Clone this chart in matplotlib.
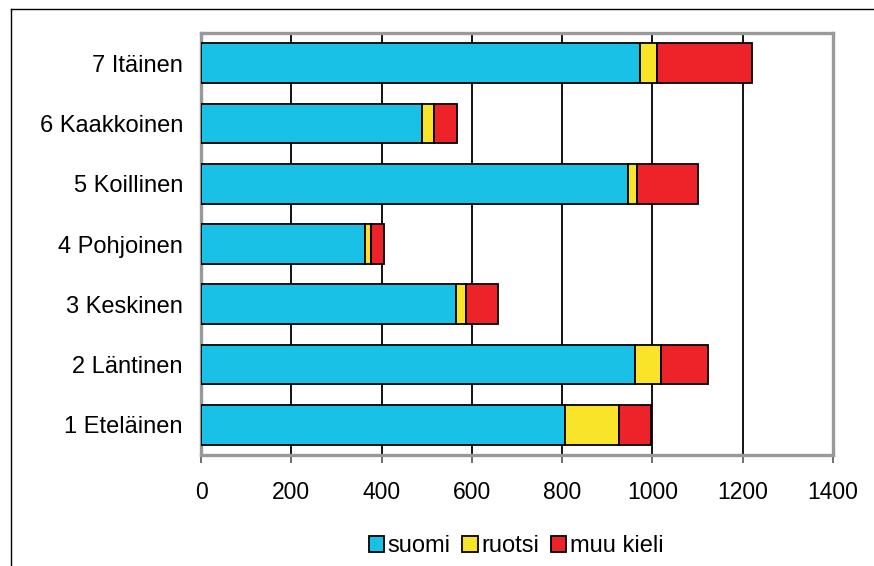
import numpy as np
import matplotlib
matplotlib.use("Agg")
import matplotlib.pyplot as plt
from matplotlib.patches import Patch
from matplotlib.lines import Line2D

plt.rcParams['font.family'] = ['Liberation Sans', 'DejaVu Sans']

# alueet alhaalta ylös
alueet = ['1 Eteläinen', '2 Läntinen', '3 Keskinen', '4 Pohjoinen',
          '5 Koillinen', '6 Kaakkoinen', '7 Itäinen']
suomi = [807, 961, 565, 364, 945, 490, 973]
ruotsi = [120, 57, 22, 12, 20, 26, 38]
muu_kieli = [70, 104, 70, 30, 136, 51, 209]
sarjat = ['suomi', 'ruotsi', 'muu kieli']
varit = ['#19C1E6', '#F9E42A', '#EE2229']
x_ticks = [0, 200, 400, 600, 800, 1000, 1200, 1400]

fig = plt.figure(figsize=(8.74, 5.66), dpi=100)
ax = fig.add_axes([201 / 874, 1 - 455 / 566, 632 / 874, 422 / 566])

y = np.arange(len(alueet))
vasen = np.zeros(len(alueet))
for arvot, nimi, vari in zip([suomi, ruotsi, muu_kieli], sarjat, varit):
    ax.barh(y, arvot, left=vasen, height=0.66, color=vari,
            edgecolor='black', linewidth=1.3, label=nimi, zorder=3)
    vasen += np.array(arvot)

ax.set_xlim(0, 1400)
ax.set_ylim(-0.5, len(alueet) - 0.5)
ax.set_xticks(x_ticks)
ax.set_yticks(y)
ax.set_yticklabels(alueet, fontsize=17)
ax.tick_params(axis='x', labelsize=16.5, length=6, width=1.2,
               color='#555555', pad=13, direction='out')
ax.tick_params(axis='y', length=0, pad=13)
ax.xaxis.grid(True, color='black', linewidth=1.3, zorder=0)
ax.set_axisbelow(True)
for s in ax.spines.values():
    s.set_color('#999999')
    s.set_linewidth(2.4)

# kehys kuvan ympärillä (vain vasen ja ylä)
fig.add_artist(Line2D([11 / 874, 11 / 874], [0, 1 - 9 / 566],
                      transform=fig.transFigure, color='black', linewidth=1))
fig.add_artist(Line2D([11 / 874, 1], [1 - 9 / 566, 1 - 9 / 566],
                      transform=fig.transFigure, color='black', linewidth=1))

handles = [Patch(facecolor=v, edgecolor='black', linewidth=1.3, label=n)
           for v, n in zip(varit, sarjat)]
fig.legend(handles=handles, loc='center', ncol=3,
           bbox_to_anchor=(516 / 874, 1 - 546 / 566), frameon=False,
           fontsize=17, handlelength=0.65, handleheight=0.65,
           handletextpad=0.15, columnspacing=0.5, borderpad=0)

fig.savefig('out.png', dpi=100)
